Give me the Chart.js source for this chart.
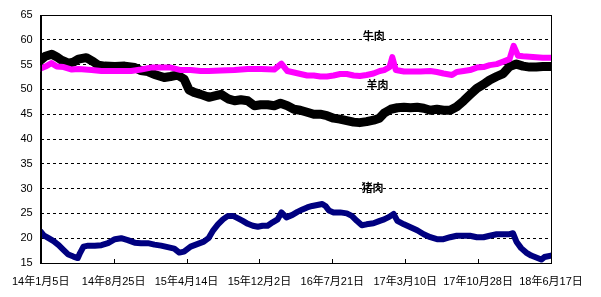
<!DOCTYPE html>
<html>
<head>
<meta charset="utf-8">
<script src="https://cdn.jsdelivr.net/npm/chart.js@4.4.1/dist/chart.umd.min.js"></script>
<style>
html,body{margin:0;padding:0;background:#fff;}
#wrap{width:601px;height:297px;position:relative;}
</style>
</head>
<body>
<div id="wrap"><canvas id="c" width="601" height="297"></canvas></div>
<script>
// X tick labels (one every 232 days from 2014-01-05)
const tickLabels = ['14年1月5日','14年8月25日','15年4月14日','15年12月2日','16年7月21日','17年3月10日','17年10月28日','18年6月17日'];
const tickStepDays = 232;

// Series names
const seriesNames = ['牛肉','羊肉','猪肉'];

// Beef (牛肉) — day offsets and prices
const beefDays = [0,15,34,51,73,99,120,141,162,193,225,256,288,319,351,383,414,446,477,509,535,574,617,659,701,743,766,785,806,827,848,869,890,911,932,953,974,996,1016,1037,1059,1079,1093,1110,1119,1130,1156,1177,1209,1240,1261,1282,1309,1324,1346,1366,1388,1409,1429,1451,1472,1492,1505,1519,1535,1556,1577,1598,1624];
const beefValues = [54.2,54.6,55.3,54.6,54.5,54.0,54.1,54.0,53.9,53.7,53.7,53.7,53.7,54.0,54.4,54.4,54.4,53.9,53.9,53.7,53.7,53.8,53.9,54.1,54.1,54.0,55.2,53.7,53.4,53.1,52.8,52.8,52.6,52.6,52.8,53.1,53.1,52.8,52.7,52.9,53.2,53.7,53.9,54.5,56.5,53.9,53.6,53.6,53.6,53.7,53.5,53.2,52.9,53.5,53.7,53.9,54.4,54.5,54.9,55.1,55.6,56.1,58.8,56.8,56.7,56.6,56.5,56.4,56.4];

// Mutton (羊肉)
const muttonDays = [0,15,35,50,66,88,104,120,145,167,183,204,236,267,299,318,341,362,393,413,435,456,472,488,509,535,554,574,596,617,637,659,680,700,722,743,763,785,806,826,848,869,889,911,932,952,974,996,1015,1037,1059,1078,1093,1114,1135,1156,1177,1198,1219,1240,1261,1282,1303,1324,1346,1366,1388,1409,1429,1451,1472,1492,1514,1535,1556,1577,1598,1624];
const muttonValues = [55.9,56.7,57.1,56.6,55.9,55.3,55.5,56.1,56.4,55.6,54.9,54.7,54.6,54.7,54.4,53.8,53.6,53.0,52.4,52.6,52.9,52.1,49.9,49.4,49.0,48.4,48.7,49.0,48.1,47.7,47.9,47.7,46.7,46.9,46.9,46.7,47.2,46.7,46.0,45.8,45.4,45.0,45.0,44.7,44.2,44.0,43.7,43.4,43.3,43.5,43.8,44.2,45.2,46.0,46.3,46.4,46.3,46.4,46.2,45.8,46.0,45.8,45.8,46.5,47.7,48.9,50.2,51.0,51.9,52.6,53.2,54.6,55.1,54.7,54.5,54.5,54.6,54.6];

// Pork (猪肉)
const porkDays = [0,9,25,41,57,73,88,104,118,125,136,151,172,193,214,236,256,277,299,319,341,362,383,404,425,441,456,477,498,519,534,549,564,580,596,612,628,643,659,675,691,706,722,738,754,766,782,801,817,833,848,864,880,896,906,917,932,953,974,990,1006,1022,1037,1059,1079,1093,1109,1123,1135,1156,1177,1198,1219,1240,1261,1282,1303,1324,1346,1366,1388,1409,1429,1451,1472,1492,1503,1514,1529,1545,1561,1577,1593,1603,1624];
const porkValues = [21.3,20.6,20.0,19.4,18.6,17.6,16.7,16.3,16.0,17.0,18.3,18.5,18.5,18.6,19.0,19.8,20.0,19.6,19.1,19.0,19.0,18.7,18.5,18.2,17.9,17.1,17.3,18.3,18.8,19.3,20.0,21.6,22.8,23.8,24.5,24.5,24.0,23.5,22.9,22.5,22.3,22.5,22.5,23.2,23.8,25.2,24.2,24.7,25.3,25.8,26.2,26.5,26.7,26.9,26.5,25.6,25.2,25.2,25.0,24.5,23.5,22.6,22.8,23.0,23.5,23.8,24.3,24.9,23.5,22.8,22.2,21.6,20.8,20.2,19.8,19.8,20.2,20.5,20.5,20.5,20.2,20.2,20.5,20.8,20.8,20.8,21.0,19.3,18.0,17.1,16.5,16.1,15.7,16.2,16.5];

// Label anchor points in data space (day, value)
const labelDays = [1060,1072,1056];
const labelValues = [60.8,50.9,30.1];

const toPts = (d, v) => d.map((x, i) => ({x: x, y: v[i]}));

const frameAndTicks = {
  id: 'frameAndTicks',
  afterDraw(chart) {
    const ctx = chart.ctx, a = chart.chartArea, xs = chart.scales.x, ys = chart.scales.y;
    ctx.save();
    ctx.strokeStyle = '#000';
    ctx.lineWidth = 1;
    ctx.strokeRect(Math.round(a.left) + 0.5, Math.round(a.top) + 0.5, Math.round(a.right - a.left), Math.round(a.bottom - a.top));
    // inward tick marks on x axis
    xs.ticks.forEach(t => {
      const px = Math.round(xs.getPixelForValue(t.value)) + 0.5;
      ctx.beginPath();
      ctx.moveTo(px, a.bottom);
      ctx.lineTo(px, a.bottom - 4);
      ctx.stroke();
    });
    // series labels
    ctx.fillStyle = '#000';
    ctx.font = 'bold 11px "Noto Sans CJK SC"';
    ctx.textAlign = 'center';
    ctx.textBaseline = 'middle';
    seriesNames.forEach((n, i) => {
      ctx.fillText(n, xs.getPixelForValue(labelDays[i]), ys.getPixelForValue(labelValues[i]));
    });
    ctx.restore();
  }
};

new Chart(document.getElementById('c'), {
  type: 'line',
  data: {
    datasets: [
      {label: seriesNames[0], data: toPts(beefDays, beefValues), borderColor: '#FF00FF', backgroundColor: '#FF00FF', borderWidth: 6, order: 1},
      {label: seriesNames[1], data: toPts(muttonDays, muttonValues), borderColor: '#000000', backgroundColor: '#000000', borderWidth: 9, order: 2},
      {label: seriesNames[2], data: toPts(porkDays, porkValues), borderColor: '#000080', backgroundColor: '#000080', borderWidth: 6, order: 3}
    ]
  },
  options: {
    responsive: false,
    animation: false,
    devicePixelRatio: 1,
    layout: {padding: {left: 0, right: 50, top: 15, bottom: 0}},
    elements: {point: {radius: 0}, line: {tension: 0, borderJoinStyle: 'round', borderCapStyle: 'round'}},
    plugins: {legend: {display: false}, tooltip: {enabled: false}},
    scales: {
      x: {
        type: 'linear',
        min: 0,
        max: tickStepDays * (tickLabels.length - 1),
        afterFit: s => { s.height = 34; },
        grid: {display: false, drawTicks: false},
        border: {display: true, color: '#000'},
        ticks: {
          stepSize: tickStepDays,
          autoSkip: false,
          maxRotation: 0,
          padding: 12,
          color: '#000',
          font: {family: '"Liberation Sans", "Noto Sans CJK SC"', size: 11},
          callback: v => tickLabels[Math.round(v / tickStepDays)]
        }
      },
      y: {
        min: 15,
        max: 65,
        afterFit: s => { s.width = 36; },
        grid: {color: '#000', lineWidth: 1, drawTicks: false},
        border: {display: true, color: '#000', dash: [3, 3]},
        ticks: {
          stepSize: 5,
          padding: 8,
          color: '#000',
          font: {family: '"Liberation Sans", "Noto Sans CJK SC"', size: 11}
        }
      }
    }
  },
  plugins: [frameAndTicks]
});
</script>
</body>
</html>
